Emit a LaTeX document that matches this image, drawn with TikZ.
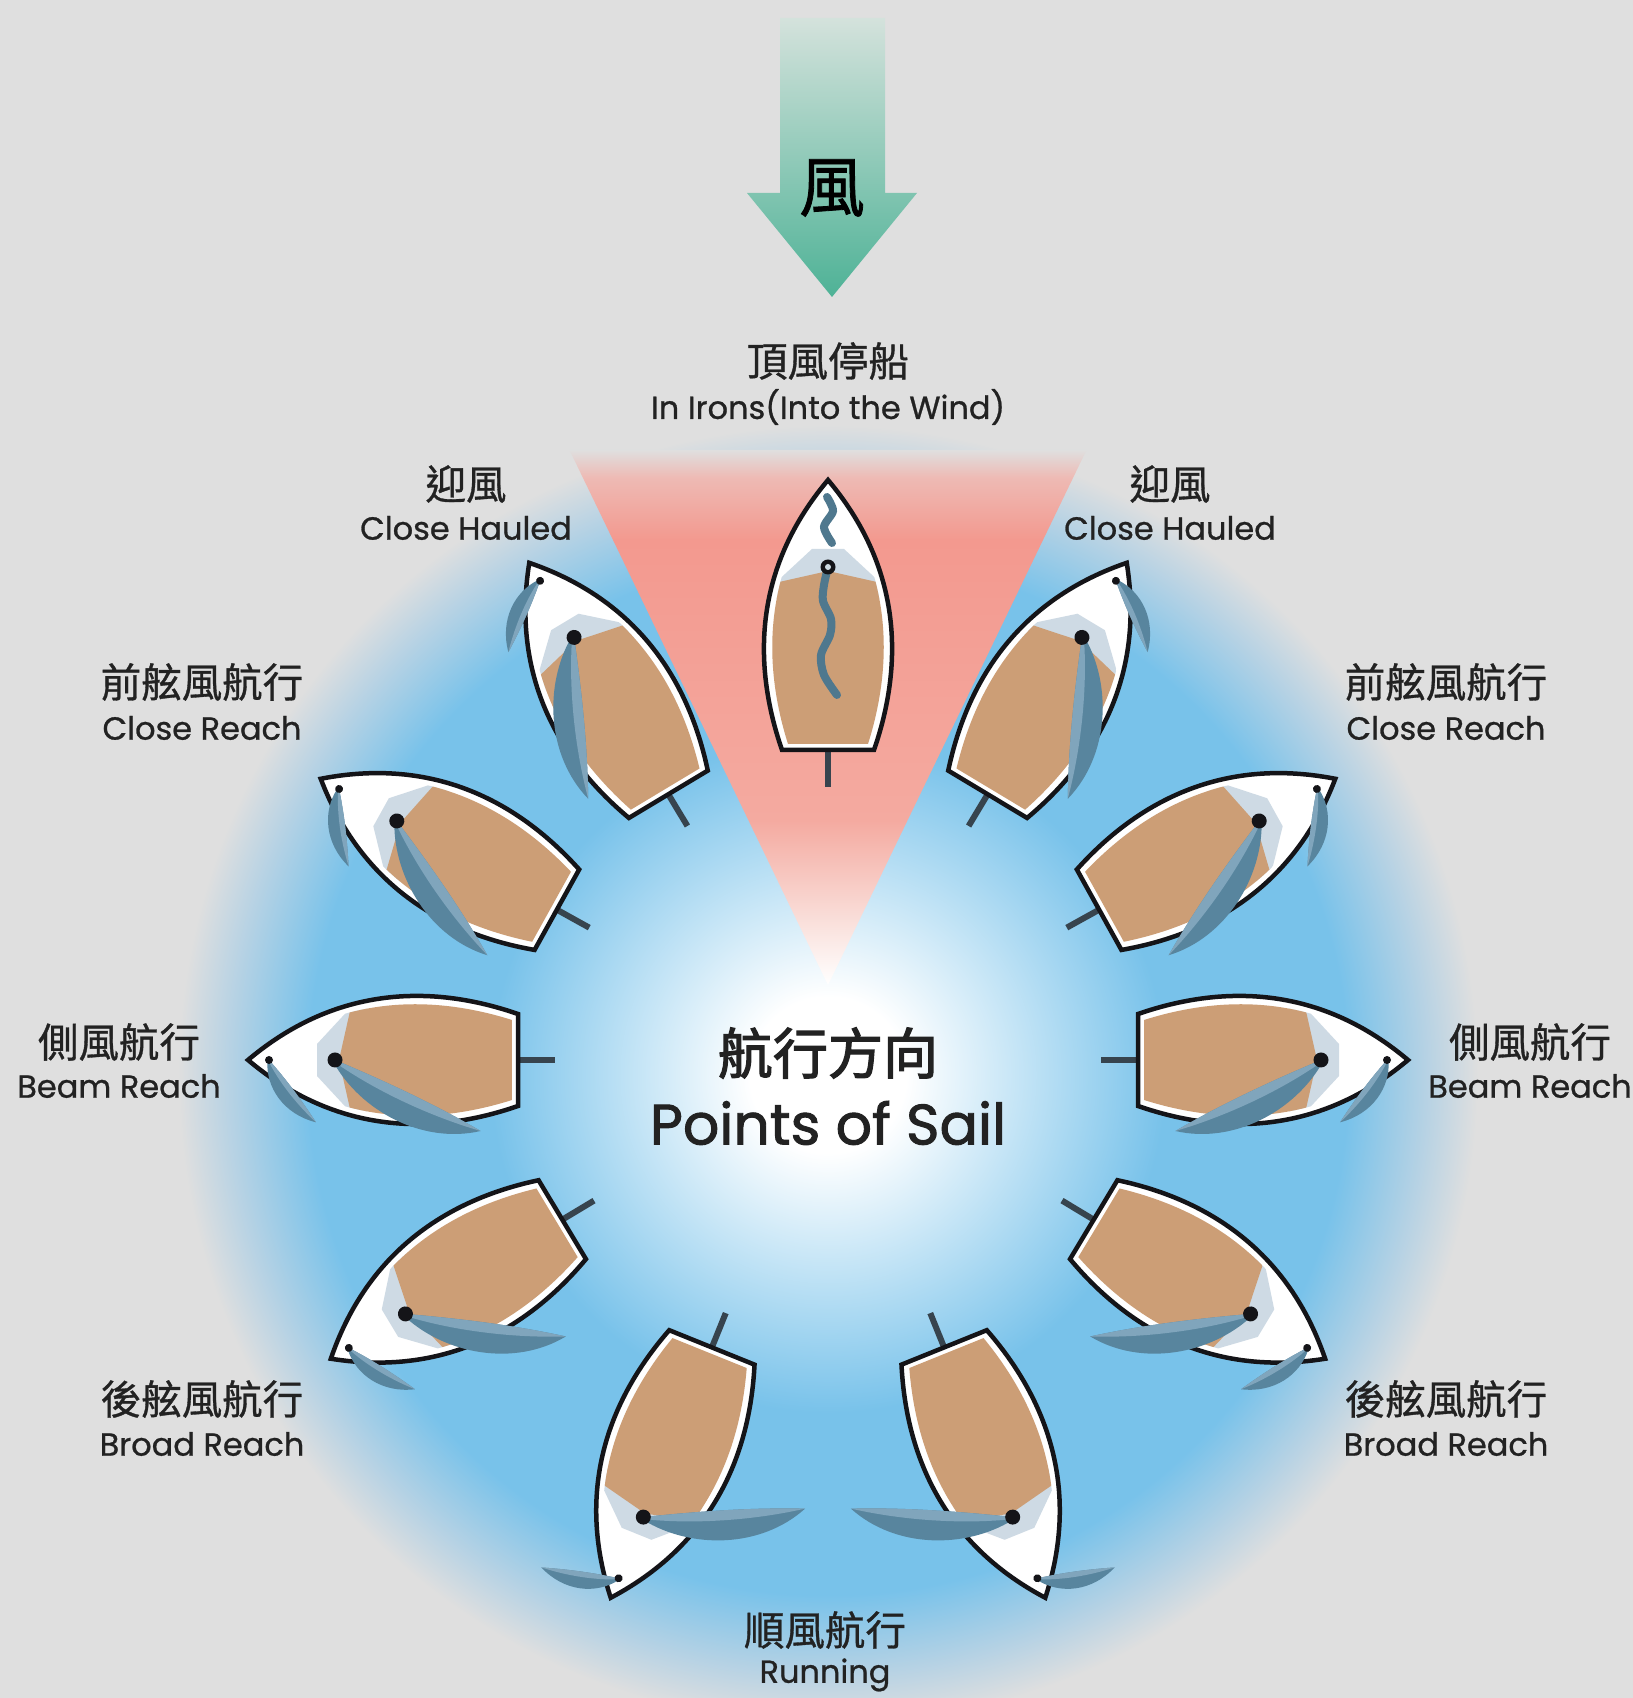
\documentclass[tikz,border=0pt]{standalone}
\usepackage{fontspec}
\setmainfont{Poppins}
\newfontfamily\labfont{Poppins}[FakeBold=0.8]
\newfontfamily\titlefont{Poppins}[FakeBold=1.6]
\newfontfamily\cjk{Noto Sans CJK TC}[FakeBold=0.8]
\newfontfamily\cjktitle{Noto Sans CJK TC}[FakeBold=2.2]
\newfontfamily\cjkwind{Noto Sans CJK TC}[FakeBold=1.2]

% palette
\definecolor{bggray}{RGB}{223,223,223}
\definecolor{seablue}{RGB}{120,194,234}
\definecolor{seafade}{RGB}{182,210,228}
\definecolor{wedgepale}{RGB}{250,228,224}
\definecolor{wedgemid}{RGB}{244,170,160}
\definecolor{wedgedeep}{RGB}{243,153,143}
\definecolor{wedgetop}{RGB}{238,186,180}
\definecolor{arrowtop}{RGB}{212,226,220}
\definecolor{arrowmid}{RGB}{145,204,185}
\definecolor{arrowbot}{RGB}{78,178,150}
\definecolor{hullink}{RGB}{20,20,24}
\definecolor{decktan}{RGB}{204,158,118}
\definecolor{deckshade}{RGB}{206,218,228}
\definecolor{sailcol}{RGB}{88,133,158}
\definecolor{saillight}{RGB}{128,165,188}
\definecolor{rudcol}{RGB}{55,68,78}
\definecolor{inkcol}{RGB}{34,34,34}

% sea glow: white centre, blue ring, fading into the page
\pgfdeclareradialshading{seaglow}{\pgfpoint{0bp}{0bp}}{%
  color(0bp)=(white); color(3bp)=(white); color(13bp)=(seablue);
  color(20bp)=(seablue); color(23bp)=(seafade); color(25bp)=(bggray);
  color(50bp)=(bggray)}
% no-go zone: salmon, fading at the top and towards the centre
\pgfdeclareverticalshading{wedgeglow}{100bp}{%
  color(0bp)=(white); color(25bp)=(white); color(30.1bp)=(wedgepale);
  color(40.4bp)=(wedgemid); color(66.6bp)=(wedgedeep); color(72.4bp)=(wedgetop);
  color(75bp)=(bggray); color(100bp)=(bggray)}

\tikzset{
  hulline/.style={draw=hullink, line width=4.5pt, line join=miter},
  rudder/.style={draw=rudcol, line width=6pt},
  wavesail/.style={draw=sailcol!90!black, line width=8pt, line cap=round},
  labzh/.style={font=\cjk\fontsize{40.5}{42}\selectfont, text=inkcol, inner sep=0pt},
  laben/.style={font=\labfont\fontsize{32}{34}\selectfont, text=inkcol, inner sep=0pt},
}

% hull, deck and rudder of one dinghy, bow along +y
\newcommand{\boatbody}{%
  \draw[rudder] (0,-130) -- (0,-172);
  \fill[white] (-46,-135) .. controls (-72,-60) and (-80,40) .. (0,135)
    .. controls (80,40) and (72,-60) .. (46,-135) -- cycle;
  \begin{scope}
    \clip[xscale=.87, yscale=.955] (-46,-135) .. controls (-72,-60) and (-80,40) .. (0,135)
      .. controls (80,40) and (72,-60) .. (46,-135) -- cycle;
    \fill[deckshade] (-70,16) -- (-16,66) -- (16,66) -- (70,16) -- cycle;
    \fill[decktan] (-80,-150) -- (-80,26) -- (0,44) -- (80,26) -- (80,-150) -- cycle;
  \end{scope}
  \draw[hulline] (-46,-135) .. controls (-72,-60) and (-80,40) .. (0,135)
    .. controls (80,40) and (72,-60) .. (46,-135) -- cycle;
}
% mainsail from the mast, #1 = direction in boat frame
\newcommand{\mainsail}[1]{%
  \begin{scope}[shift={(0,48)}, rotate=#1]
    \fill[sailcol] (0,0) .. controls (55,3) and (110,4) .. (162,0)
      .. controls (115,-38) and (45,-34) .. (0,-3) -- cycle;
    \fill[saillight] (0,0) .. controls (55,3) and (110,4) .. (162,0)
      .. controls (110,-9) and (50,-10) .. (0,-2) -- cycle;
  \end{scope}}
% jib from the forestay, #1 = direction, #2 = side of the belly
\newcommand{\jibsail}[2]{%
  \begin{scope}[shift={(0,114)}, rotate=#1, yscale=#2]
    \fill[sailcol] (0,0) .. controls (25,2) and (50,2) .. (78,0)
      .. controls (52,-21) and (20,-19) .. (0,-2) -- cycle;
    \fill[saillight] (0,0) .. controls (25,2) and (50,2) .. (78,0)
      .. controls (50,-5) and (22,-5) .. (0,-1) -- cycle;
  \end{scope}}
% a trimmed dinghy at bearing #1 round the circle
\newcommand{\rigged}[4]{%
  \begin{scope}[shift={(90+#1:445)}, rotate=#1]
    \boatbody
    \jibsail{#3}{#4}
    \mainsail{#2}
    \fill[hullink] (0,114) circle (4);
    \fill[hullink] (0,48) circle (7.5);
  \end{scope}}

\begin{document}
\begin{tikzpicture}[x=1pt, y=1pt]
\useasboundingbox (0,0) rectangle (1633,1698);
\fill[bggray] (0,0) rectangle (1633,1698);

% water and no-go zone
\shade[shading=seaglow] (828,623) circle (650);
\shade[shading=wedgeglow] (569.5,1248) -- (1086.5,1248) -- (828,713) -- cycle;

% wind arrow
\shade[top color=arrowtop, middle color=arrowmid, bottom color=arrowbot]
  (780,1680) -- (885,1680) -- (885,1505) -- (917,1505) -- (832,1401)
  -- (747,1505) -- (780,1505) -- cycle;
\node[font=\cjkwind\fontsize{66}{70}\selectfont, text=black, inner sep=0pt] (windchar) at (832,1510) {風};

% boats round the compass
\begin{scope}[shift={(828,638)}]
  % in irons: sails luffing
  \begin{scope}[shift={(90:445)}]
    \boatbody
    \draw[wavesail] plot[smooth] coordinates {(-1,118) (5,104) (-4,88) (4,72)};
    \draw[wavesail] plot[smooth] coordinates {(0,48) (-4,30) (-5,14) (3,-4) (2,-20) (-7,-40) (-4,-60) (9,-80)};
    \fill[hullink] (0,48) circle (7.5);
    \fill[white!70!sailcol] (0,48) circle (3);
  \end{scope}
  % port side of the circle
  \rigged{31}{-116}{-145}{1}
  \rigged{61}{-117}{-144}{1}
  \rigged{90}{-116}{-143}{1}
  \rigged{121}{-129}{-153}{1}
  \rigged{158}{-155}{14}{-1}
  % starboard side, mirrored
  \begin{scope}[xscale=-1]
    \rigged{31}{-116}{-145}{1}
    \rigged{61}{-117}{-144}{1}
    \rigged{90}{-116}{-143}{1}
    \rigged{121}{-129}{-153}{1}
    \rigged{158}{-155}{14}{-1}
  \end{scope}
\end{scope}

% labels
\node[labzh] (ironszh) at (828,1337) {頂風停船};
\node[laben] (ironsen) at (828,1291) {In Irons(Into the Wind)};
\node[labzh] (chlzh) at (466,1214) {迎風};
\node[laben] (chlen) at (466,1170) {Close Hauled};
\node[labzh] (chrzh) at (1170,1214) {迎風};
\node[laben] (chren) at (1170,1170) {Close Hauled};
\node[labzh] (crlzh) at (202,1016) {前舷風航行};
\node[laben] (crlen) at (202,970) {Close Reach};
\node[labzh] (crrzh) at (1446,1016) {前舷風航行};
\node[laben] (crren) at (1446,970) {Close Reach};
\node[labzh] (brlzh) at (119,656) {側風航行};
\node[laben] (brlen) at (119,612) {Beam Reach};
\node[labzh] (brrzh) at (1530,656) {側風航行};
\node[laben] (brren) at (1530,612) {Beam Reach};
\node[labzh] (bdlzh) at (202,299) {後舷風航行};
\node[laben] (bdlen) at (202,254) {Broad Reach};
\node[labzh] (bdrzh) at (1446,299) {後舷風航行};
\node[laben] (bdren) at (1446,254) {Broad Reach};
\node[labzh] (runzh) at (825,68) {順風航行};
\node[laben] (runen) at (825,23) {Running};

\node[font=\cjktitle\fontsize{55}{58}\selectfont, text=inkcol, inner sep=0pt] (titlezh) at (828,645) {航行方向};
\node[font=\titlefont\fontsize{57}{60}\selectfont, text=inkcol, inner sep=0pt] (titleen) at (828,575) {Points of Sail};
\end{tikzpicture}
\end{document}
